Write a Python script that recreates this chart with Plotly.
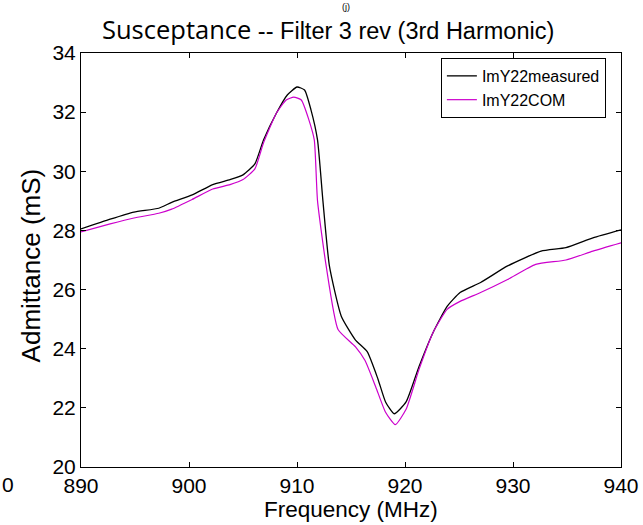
import plotly.graph_objects as go

freq_meas = [890, 892.7, 894.9, 897.2, 898.4, 900.3, 902.2, 903.8, 905.0, 906.1, 906.9, 908.1, 909.1, 910.0, 910.7, 911.3, 911.9, 912.4, 913.0, 914.1, 915.4, 916.5, 917.5, 918.2, 919.0, 920.1, 921.3, 922.6, 923.9, 925.1, 927.0, 929.5, 932.6, 934.9, 937.4, 940]
imy_meas = [28.05, 28.38, 28.62, 28.75, 28.95, 29.2, 29.55, 29.72, 29.88, 30.25, 31.06, 31.97, 32.58, 32.85, 32.75, 32.07, 31.06, 29.0, 26.8, 25.1, 24.3, 23.9, 22.97, 22.2, 21.8, 22.2, 23.4, 24.55, 25.43, 25.9, 26.24, 26.8, 27.3, 27.42, 27.75, 28.02]

freq_com = [890, 892.7, 894.9, 897.2, 898.4, 900.3, 902.2, 903.8, 905.0, 906.1, 906.9, 908.1, 909.0, 909.7, 910.4, 911.1, 911.6, 911.9, 912.7, 913.8, 915.4, 916.3, 917.3, 918.2, 919.1, 920.1, 921.3, 922.6, 923.9, 925.1, 927.0, 929.5, 932.1, 934.9, 937.4, 940]
imy_com = [27.95, 28.22, 28.42, 28.58, 28.72, 29.05, 29.4, 29.55, 29.72, 30.08, 30.96, 31.97, 32.41, 32.51, 32.41, 31.74, 31.06, 29.0, 26.8, 24.65, 24.07, 23.6, 22.7, 21.85, 21.43, 21.95, 23.3, 24.55, 25.33, 25.6, 25.9, 26.34, 26.85, 27.0, 27.3, 27.58]

x_ticks = [890, 900, 910, 920, 930, 940]
y_ticks = [20, 22, 24, 26, 28, 30, 32, 34]

fig = go.Figure()
fig.add_trace(go.Scatter(x=freq_meas, y=imy_meas, mode="lines", name="ImY22measured",
                         line=dict(color="#000000", width=1.3, shape="spline", smoothing=0.5)))
fig.add_trace(go.Scatter(x=freq_com, y=imy_com, mode="lines", name="ImY22COM",
                         line=dict(color="#cc00cc", width=1.2, shape="spline", smoothing=0.5)))

ff = "Liberation Sans, Arial, sans-serif"
axis_common = dict(showgrid=False, zeroline=False, showline=True, linecolor="black", linewidth=1,
                   mirror="ticks", ticks="inside", ticklen=5, tickcolor="black", automargin=False,
                   tickfont=dict(family=ff, size=21, color="black"))

fig.update_layout(
    width=643, height=525,
    margin=dict(l=81, r=22, t=53, b=58),
    paper_bgcolor="white", plot_bgcolor="white",
    showlegend=True,
    legend=dict(x=0.972, y=0.988, xanchor="right", yanchor="top",
                bgcolor="white", bordercolor="black", borderwidth=1,
                font=dict(family=ff, size=16, color="black"),
                tracegroupgap=0, itemwidth=30),
    xaxis=dict(range=[890, 940], tickvals=x_ticks, ticktext=[str(v) for v in x_ticks], **axis_common),
    yaxis=dict(range=[20, 34], tickvals=y_ticks, ticktext=[str(v) for v in y_ticks], **axis_common),
    annotations=[
        dict(text="<span style='font-family:Open Sans;font-size:25.5px'>Susceptance</span> -- Filter 3 rev (3rd Harmonic)",
             x=0.035, y=1.0, xref="paper", yref="paper", xanchor="left", yanchor="bottom",
             yshift=5, showarrow=False, font=dict(family=ff, size=23.5, color="black")),
        dict(text="(j)", x=0.49, y=1.0, xref="paper", yref="paper", xanchor="center", yanchor="top",
             yshift=53, showarrow=False, font=dict(family=ff, size=9, color="black")),
        dict(text="Frequency (MHz)", x=0.5, y=0.0, xref="paper", yref="paper", xanchor="center", yanchor="bottom",
             yshift=-57, showarrow=False, font=dict(family=ff, size=22.5, color="black")),
        dict(text="Admittance (mS)", x=0.0, y=0.487, xref="paper", yref="paper", xanchor="center", yanchor="middle",
             xshift=-50, textangle=-90, showarrow=False, font=dict(family=ff, size=26, color="black")),
        dict(text="0", x=0, y=0, xref="paper", yref="paper", xanchor="left", yanchor="top",
             xshift=-81, yshift=-4, showarrow=False, font=dict(family=ff, size=21, color="black")),
    ],
)

fig.write_html("out.html", config={"displayModeBar": False},
               post_script="document.body.style.margin='0px';document.body.style.overflow='hidden';")
